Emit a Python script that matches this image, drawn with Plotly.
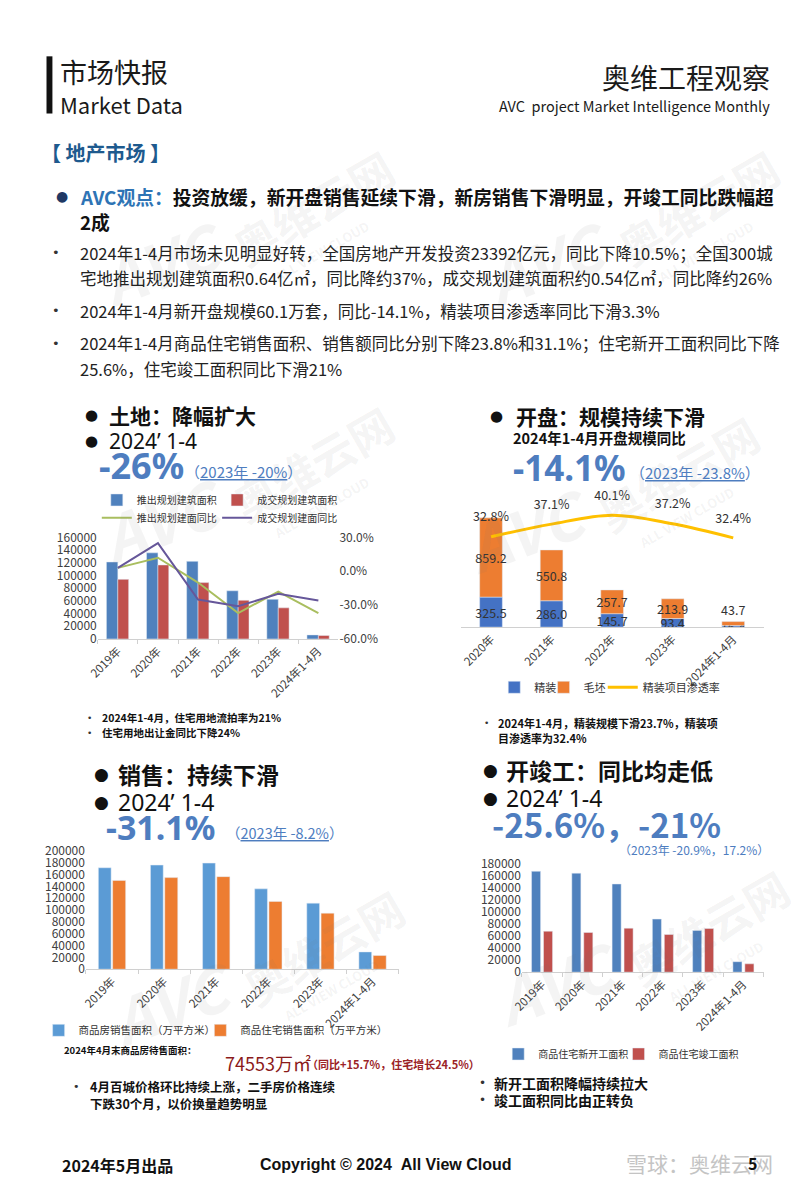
import plotly.graph_objects as go

W, H = 800, 1200
def X(px): return px / W
def Y(py): return 1 - py / H

FONT = "Noto Sans CJK SC, Noto Sans, sans-serif"
LATIN = "Noto Sans, Open Sans, sans-serif"
BLUE_TXT = "#4E7DBF"

# ---------------- data ----------------
years6 = ['2019年', '2020年', '2021年', '2022年', '2023年', '2024年1-4月']
land_launch = [121300, 135700, 122300, 75900, 62450, 6400]
land_deal = [93900, 116600, 88800, 60900, 49000, 5400]
land_launch_yoy = [3, 12, -10, -37, -18, -37]
land_deal_yoy = [3, 25, -25, -31, -20, -26]
land_y2_ticks = [-60, -30, 0, 30]
land_y2_labels = ['-60.0%', '-30.0%', '0.0%', '30.0%']

years5 = ['2020年', '2021年', '2022年', '2023年', '2024年1-4月']
open_fine = [325.5, 286.0, 145.7, 93.4, 16.4]
open_rough = [859.2, 550.8, 257.7, 213.9, 43.7]
open_rate = [32.8, 37.1, 40.1, 37.2, 32.4]

sales_all = [171558, 176086, 179433, 135837, 111735, 29252]
sales_res = [150144, 154878, 156532, 114631, 94796, 23157]

starts_res = [167463, 164329, 146379, 88135, 69286, 17405]
compl_res = [68011, 65910, 73016, 62539, 72433, 13857]

fig = go.Figure()

# ---------------- chart 1: land ----------------
fig.add_trace(go.Bar(x=years6, y=land_launch, name='推出规划建筑面积', marker_color='#4F81BD',
                     width=0.285, offset=-0.285, xaxis='x', yaxis='y', legend='legend'))
fig.add_trace(go.Bar(x=years6, y=land_deal, name='成交规划建筑面积', marker_color='#C0504D',
                     width=0.27, offset=0.0, xaxis='x', yaxis='y', legend='legend2'))
fig.add_trace(go.Scatter(x=years6, y=land_launch_yoy, name='推出规划建面同比', mode='lines',
                         line=dict(color='#A9BE5F', width=2), xaxis='x', yaxis='y2', legend='legend3'))
fig.add_trace(go.Scatter(x=years6, y=land_deal_yoy, name='成交规划建面同比', mode='lines',
                         line=dict(color='#66579A', width=2), xaxis='x', yaxis='y2', legend='legend4'))

# ---------------- chart 2: openings ----------------
fig.add_trace(go.Bar(x=years5, y=open_fine, name='精装', marker_color='#4472C4',
                     width=0.375, offset=-0.1875, text=[f'{v:.1f}' for v in open_fine],
                     textposition='inside', insidetextanchor='middle', textangle=0,
                     constraintext='none',
                     textfont=dict(size=12.5, color='#333'), xaxis='x2', yaxis='y3', legend='legend5'))
fig.add_trace(go.Bar(x=years5, y=open_rough, base=open_fine, name='毛坯', marker_color='#ED7D31',
                     width=0.375, offset=-0.1875, text=[f'{v:.1f}' for v in open_rough],
                     textposition=['inside', 'inside', 'inside', 'inside', 'outside'],
                     insidetextanchor='middle', textangle=0, constraintext='none', cliponaxis=False,
                     textfont=dict(size=12.5, color='#333'), xaxis='x2', yaxis='y3', legend='legend6'))
fig.add_trace(go.Scatter(x=years5, y=open_rate, name='精装项目渗透率', mode='lines',
                         line=dict(color='#FFC000', width=3, shape='spline'),
                         xaxis='x2', yaxis='y4', legend='legend7'))
fig.add_trace(go.Scatter(x=years5, y=open_rate, mode='markers+text', showlegend=False,
                         marker=dict(size=18, color='rgba(0,0,0,0)'),
                         text=[f'{v:.1f}%' for v in open_rate], textposition='top center',
                         textfont=dict(size=12.5, color='#333'), cliponaxis=False,
                         xaxis='x2', yaxis='y4'))

# ---------------- chart 3: sales ----------------
fig.add_trace(go.Bar(x=years6, y=sales_all, name='商品房销售面积（万平方米）', marker_color='#5B9BD5',
                     width=0.245, offset=-0.262, xaxis='x3', yaxis='y5', legend='legend8'))
fig.add_trace(go.Bar(x=years6, y=sales_res, name='商品住宅销售面积（万平方米）', marker_color='#ED7D31',
                     width=0.25, offset=0.012, xaxis='x3', yaxis='y5', legend='legend9'))

# ---------------- chart 4: starts / completions ----------------
fig.add_trace(go.Bar(x=years6, y=starts_res, name='商品住宅新开工面积', marker_color='#4F81BD',
                     width=0.225, offset=-0.26, xaxis='x4', yaxis='y6', legend='legend10'))
fig.add_trace(go.Bar(x=years6, y=compl_res, name='商品住宅竣工面积', marker_color='#C0504D',
                     width=0.225, offset=0.037, xaxis='x4', yaxis='y6', legend='legend11'))

# ---------------- axes ----------------
tickc = '#404040'
xcommon = dict(type='category', tickangle=-45, showline=True, linecolor='#D0D0D0',
               showgrid=False, zeroline=False, tickfont=dict(size=11.5, color=tickc))
ycommon = dict(showgrid=False, zeroline=False, ticks='', tickformat='d',
               tickfont=dict(size=12, color=tickc))

layout = dict(
    width=W, height=H, margin=dict(l=0, r=0, t=0, b=0),
    paper_bgcolor='white', plot_bgcolor='rgba(0,0,0,0)',
    font=dict(family=FONT, color='#222'),
    barmode='group', showlegend=True,
    xaxis=dict(domain=[X(88), X(332)], anchor='y', ticks='outside', tickson='boundaries',
               ticklen=4, tickcolor='#D0D0D0', **xcommon),
    yaxis=dict(domain=[Y(638), Y(535)], anchor='x', range=[0, 160000], dtick=20000, **ycommon),
    yaxis2=dict(overlaying='y', side='right', anchor='x', range=[-60, 30],
                tickvals=land_y2_ticks, ticktext=land_y2_labels,
                showgrid=False, zeroline=False, tickfont=dict(size=12, color=tickc)),
    xaxis2=dict(domain=[X(456), X(763)], anchor='y3', ticks='', **xcommon),
    yaxis3=dict(domain=[Y(626), Y(495)], anchor='x2', range=[0, 1400], visible=False),
    yaxis4=dict(overlaying='y3', anchor='x2', range=[2, 46], visible=False),
    xaxis3=dict(domain=[X(76), X(393)], anchor='y5', ticks='outside', tickson='boundaries',
                ticklen=4, tickcolor='#D0D0D0', **xcommon),
    yaxis5=dict(domain=[Y(973), Y(853)], anchor='x3', range=[0, 200000], dtick=20000, **ycommon),
    xaxis4=dict(domain=[X(518), X(763)], anchor='y6', ticks='outside', tickson='boundaries',
                ticklen=4, tickcolor='#D0D0D0', **xcommon),
    yaxis6=dict(domain=[Y(976), Y(866)], anchor='x4', range=[0, 180000], dtick=20000, **ycommon),
)

def leg(px, py, size):
    return dict(x=X(px), y=Y(py), xanchor='left', yanchor='middle', orientation='h',
                bgcolor='rgba(0,0,0,0)', font=dict(size=size, color='#333', family=FONT),
                itemwidth=30, borderwidth=0)

# one legend per entry so each entry can sit where the reference has it
legend_pos = [
    (87, 497, 10), (209, 497, 10), (87, 515, 10), (209, 515, 10),      # chart 1
    (490, 687, 11), (540, 687, 11), (600, 687, 11),                    # chart 2
    (28, 1035, 10.5), (192, 1035, 10.5),                                # chart 3
    (494, 1059, 10), (616, 1059, 10),                                   # chart 4
]
for i, (px, py, sz) in enumerate(legend_pos):
    key = 'legend' if i == 0 else f'legend{i + 1}'
    layout[key] = leg(px, py, sz)

fig.update_layout(**layout)

# ---------------- text ----------------
ann = []
def T(px, py, text, size, color='#1a1a1a', anchor='left', bold=False, family=FONT, angle=0):
    ann.append(dict(x=X(px), y=Y(py), xref='paper', yref='paper',
                    text=(f'<b>{text}</b>' if bold else text), showarrow=False,
                    xanchor=anchor, yanchor='middle', textangle=angle,
                    font=dict(size=size, color=color, family=family)))

BUL = 'DejaVu Sans, sans-serif'

# watermarks (faint)
WM = 'rgba(110,110,110,0.08)'
for cx, cy in [(250, 200), (640, 200), (250, 460), (620, 470), (260, 950), (650, 930)]:
    T(cx - 175, cy + 55, '<i>AVC</i>', 62, WM, bold=True, angle=-20)
    T(cx - 40, cy, '奥维云网', 44, WM, bold=True, angle=-30)
    T(cx + 10, cy + 45, 'ALL VIEW CLOUD', 13, WM, bold=True, angle=-30)

# header
T(48, 62, '市场快报', 27)
T(48, 95, 'Market Data', 22)
T(772, 68, '奥维工程观察', 28, anchor='right')
T(772, 97, 'AVC\u00a0\u00a0project Market Intelligence Monthly', 14.5, anchor='right')

T(28, 145, '【 地产市场 】', 20, '#1E5A8E', bold=True)

T(44, 189, '●', 14, '#1F3864', family=BUL)
T(68, 189, "<span style='color:#2E74B5'>AVC观点：</span>投资放缓，新开盘销售延续下滑，新房销售下滑明显，开竣工同比跌幅超",
  18.8, '#111', bold=True)
T(68, 215, '2成', 18.8, '#111', bold=True)

body = [
    (246, True, '2024年1-4月市场未见明显好转，全国房地产开发投资23392亿元，同比下降10.5%；全国300城'),
    (272, False, '宅地推出规划建筑面积0.64亿㎡，同比降约37%，成交规划建筑面积约0.54亿㎡，同比降约26%'),
    (305, True, '2024年1-4月新开盘规模60.1万套，同比-14.1%，精装项目渗透率同比下滑3.3%'),
    (338, True, '2024年1-4月商品住宅销售面积、销售额同比分别下降23.8%和31.1%；住宅新开工面积同比下降'),
    (364, False, '25.6%，住宅竣工面积同比下滑21%'),
]
for py, bullet, txt in body:
    if bullet:
        T(40, py, '•', 13, '#333', family=BUL)
    T(68, py, txt, 16.5, '#222')

# chart 1 header
T(73, 411, '●', 15, '#111', family=BUL)
T(97, 411, '土地：降幅扩大', 21, '#111', bold=True)
T(73, 437, '●', 15, '#111', family=BUL)
T(97, 437, '2024’ 1-4', 21, '#111', family=LATIN)
T(87, 462, '-26%', 36, BLUE_TXT, bold=True, family=LATIN)
T(174, 468, '（<u>2023年 -20%</u>）', 15, BLUE_TXT)

# chart 2 header
T(484, 412, '●', 15, '#111', family=BUL)
T(510, 412, '开盘：规模持续下滑', 21, '#111', bold=True)
T(507, 434, '2024年1-4月开盘规模同比', 14.5, '#111', bold=True)
T(507, 464, '-14.1%', 35, BLUE_TXT, bold=True, family=LATIN)
T(626, 469, '（<u>2023年 -23.8%</u>）', 15, BLUE_TXT)

# notes below charts 1 and 2
T(75, 718, '•', 9, '#333', family=BUL)
T(90, 718, '2024年1-4月，住宅用地流拍率为21%', 10.5, '#111', bold=True)
T(75, 733, '•', 9, '#333', family=BUL)
T(90, 733, '住宅用地出让金同比下降24%', 10.5, '#111', bold=True)
T(478, 723, '•', 9, '#333', family=BUL)
T(492, 723, '2024年1-4月，精装规模下滑23.7%，精装项', 11, '#111', bold=True)
T(492, 738, '目渗透率为32.4%', 11, '#111', bold=True)

# chart 3 header
T(82, 775, '●', 17, '#111', family=BUL)
T(106, 775, '销售：持续下滑', 23, '#111', bold=True)
T(82, 803, '●', 17, '#111', family=BUL)
T(106, 803, '2024’ 1-4', 23, '#111', family=LATIN)
T(94, 829, '-31.1%', 34, BLUE_TXT, bold=True, family=LATIN)
T(216, 834, '（<u>2023年 -8.2%</u>）', 14.5, BLUE_TXT)

# chart 4 header
T(477, 771, '●', 17, '#111', family=BUL)
T(500, 771, '开竣工：同比均走低', 23, '#111', bold=True)
T(477, 799, '●', 17, '#111', family=BUL)
T(500, 799, '2024’ 1-4', 23, '#111', family=LATIN)
T(486, 826, '-25.6%，-21%', 33, BLUE_TXT, bold=True)
T(614, 852, '（2023年 -20.9%，17.2%）', 12, BLUE_TXT)

# chart 3 notes
T(52, 1055, '2024年4月末商品房待售面积：', 9.5, '#111', bold=True)
T(215, 1068, '74553万㎡', 18, '#8B1A1A')
T(298, 1069, '（同比+15.7%，住宅增长24.5%）', 11, '#9B2226', bold=True)
T(61, 1092, '•', 11, '#333', family=BUL)
T(78, 1092, '4月百城价格环比持续上涨，二手房价格连续', 12.5, '#111', bold=True)
T(78, 1109, '下跌30个月，以价换量趋势明显', 12.5, '#111', bold=True)

# chart 4 notes
T(472, 1088, '•', 12, '#333', family=BUL)
T(488, 1088, '新开工面积降幅持续拉大', 14, '#111', bold=True)
T(472, 1106, '•', 12, '#333', family=BUL)
T(488, 1106, '竣工面积同比由正转负', 14, '#111', bold=True)

# footer
T(50, 1172, '2024年5月出品', 16, '#111', bold=True)
T(250, 1171, 'Copyright © 2024\u00a0\u00a0All View Cloud', 16, '#111', bold=True,
  family='Liberation Sans Narrow, Liberation Sans, Arial, sans-serif')
T(775, 1170, '雪球：奥维云网', 21, '#C4C4C4', anchor='right')
T(745, 1170, '5', 16, '#111', bold=True)

fig.update_layout(annotations=ann,
                  shapes=[dict(type='rect', xref='paper', yref='paper',
                               x0=X(36), x1=X(42), y0=Y(105), y1=Y(47),
                               fillcolor='#111', line=dict(width=0))])

fig.write_html('out.html')
